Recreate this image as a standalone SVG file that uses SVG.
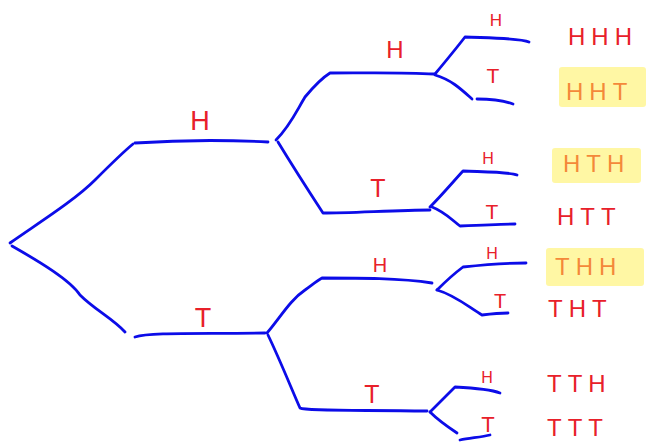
<svg xmlns="http://www.w3.org/2000/svg" width="647" height="443" viewBox="0 0 647 443">
<style>
.e{fill:none;stroke:#0c0ce8;stroke-width:2.8;stroke-linecap:round;stroke-linejoin:round}
.l{fill:#e8202a;font-family:"Liberation Sans",Arial,sans-serif;text-anchor:middle}
.o{fill:#e8202a;font-family:"Liberation Sans",Arial,sans-serif;font-size:24px;letter-spacing:6px}
.hl{fill:#fff04a;opacity:0.5}
</style>
<rect width="647" height="443" fill="#fff"/>
<g id="connectors">
<path class="e" d="M10,243 C40,222 75,200 95,180 C110,165 122,153 133,144"/>
<path class="e" d="M135,143 C180,140 230,140 268,142"/>
<path class="e" d="M12,246 C40,262 70,280 80,295 C95,310 112,318 125,332"/>
<path class="e" d="M135,337 C150,332 200,334 265,333"/>
<path class="e" d="M276,140 C290,126 296,112 305,97 C315,85 322,78 330,73 C360,73 400,72 434,74"/>
<path class="e" d="M278,142 C292,165 308,190 323,213 C350,213 400,210 430,210"/>
<path class="e" d="M267,333 C280,318 290,300 305,290 C312,285 318,280 322,278 C360,278 400,278 432,283"/>
<path class="e" d="M268,335 C280,360 292,390 300,408 C305,411 350,410 427,411"/>
<path class="e" d="M435,74 C445,62 455,50 465,37 C490,38 520,38 529,42"/>
<path class="e" d="M435,75 C452,80 462,90 472,99"/>
<path class="e" d="M477,99 C490,99 505,101 513,104"/>
<path class="e" d="M430,207 C442,195 452,183 463,171 C490,172 510,172 517,175"/>
<path class="e" d="M432,207 C445,212 452,220 460,226 C480,225 505,224 515,224"/>
<path class="e" d="M437,290 C445,282 455,273 463,267 C490,264 510,263 526,263"/>
<path class="e" d="M437,290 C455,295 470,308 482,315 C490,314 500,313 508,313"/>
<path class="e" d="M430,412 C438,404 447,395 455,387 C475,388 490,389 500,393"/>
<path class="e" d="M430,412 C438,420 448,427 457,433"/>
<path class="e" d="M460,440 C470,438 482,437 490,435"/>
</g>
<g id="level1">
<text class="l" x="200" y="130" font-size="27">H</text>
<text class="l" x="203" y="327" font-size="27">T</text>
</g>
<g id="level2">
<text class="l" x="395" y="58" font-size="24">H</text>
<text class="l" x="378" y="197" font-size="25">T</text>
<text class="l" x="380" y="272" font-size="20">H</text>
<text class="l" x="372" y="403" font-size="25">T</text>
</g>
<g id="level3">
<text class="l" x="496" y="26" font-size="17">H</text>
<text class="l" x="493" y="83" font-size="21">T</text>
<text class="l" x="488" y="164" font-size="16">H</text>
<text class="l" x="492" y="219" font-size="21">T</text>
<text class="l" x="492" y="259" font-size="16">H</text>
<text class="l" x="500" y="308" font-size="20">T</text>
<text class="l" x="487" y="383" font-size="16">H</text>
<text class="l" x="488" y="432" font-size="22">T</text>
</g>
<g id="outcomes">
<text class="o" x="568" y="45">HHH</text>
<text class="o" x="566" y="100">HHT</text>
<text class="o" x="563" y="172">HTH</text>
<text class="o" x="557" y="225">HTT</text>
<text class="o" x="555" y="275">THH</text>
<text class="o" x="548" y="317">THT</text>
<text class="o" x="547" y="392">TTH</text>
<text class="o" x="547" y="436">TTT</text>
</g>
<g id="highlights">
<rect class="hl" x="559" y="67" width="87" height="40" rx="3"/>
<rect class="hl" x="552" y="148" width="89" height="35" rx="3"/>
<rect class="hl" x="546" y="248" width="98" height="38" rx="3"/>
</g>
</svg>
